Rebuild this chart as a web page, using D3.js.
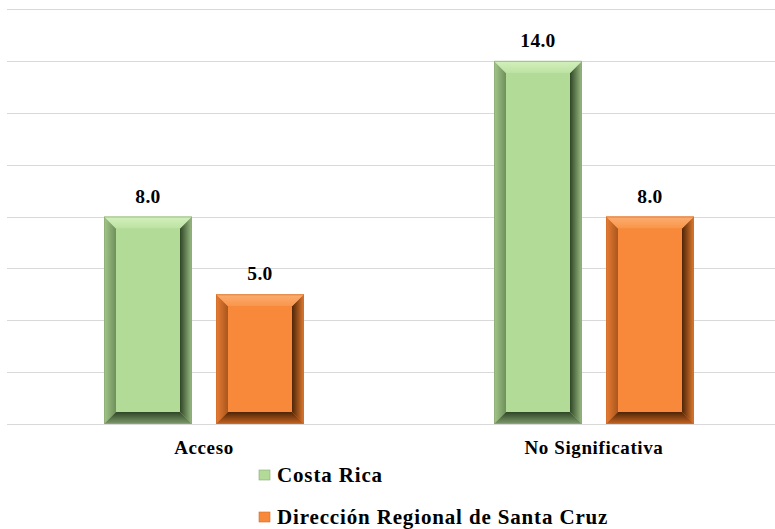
<!DOCTYPE html>
<html><head><meta charset="utf-8">
<script src="https://cdn.jsdelivr.net/npm/d3@7"></script>
<style>body{margin:0;background:#fff}svg{display:block}</style>
</head><body>
<script>
const categories = ["Acceso", "No Significativa"];
const seriesNames = ["Costa Rica", "Dirección Regional de Santa Cruz"];
const costaRica = [8.0, 14.0];
const santaCruz = [5.0, 8.0];
const gridTicks = [0, 2, 4, 6, 8, 10, 12, 14, 16];

const seriesValues = [costaRica, santaCruz];
const colors = ["#B3DB98", "#F8893B"];
const bevel = [
  {top:["#D3F0BD","#BDE2A3"], left:["#A3C78A","#6F8F5B"], right:["#9DBE86","#2F4626"], bottom:["#7E9B6B","#2F4626"]},
  {top:["#FCAE72","#F9954A"], left:["#E97D33","#A9561E"], right:["#E07A30","#4E2406"], bottom:["#C86522","#4E2406"]}
];
const edge = ["#8BAA75", "#D06D28"];
const FONT = "'Liberation Serif', 'Times New Roman', Times, serif";

const W = 775, H = 529;
const svg = d3.select("body").append("svg").attr("width", W).attr("height", H);
const defs = svg.append("defs");
const dirs = {top:[0,0,0,1], bottom:[0,1,0,0], left:[0,0,1,0], right:[1,0,0,0]};
bevel.forEach((b, si) => {
  Object.keys(dirs).forEach(k => {
    const d = dirs[k];
    const lg = defs.append("linearGradient").attr("id", `bv${si}${k}`)
      .attr("x1", d[0]).attr("y1", d[1]).attr("x2", d[2]).attr("y2", d[3]);
    lg.append("stop").attr("offset", 0).attr("stop-color", b[k][0]);
    lg.append("stop").attr("offset", 1).attr("stop-color", b[k][1]);
  });
});

const y = d3.scaleLinear().domain([0, 16]).range([424, 9]);
const x0 = d3.scaleBand().domain(categories).range([8, 788]);
const x1 = d3.scaleBand().domain(seriesNames).range([96, 296]).paddingInner(24/112);

svg.append("g").selectAll("line").data(gridTicks).join("line")
  .attr("x1", 7).attr("x2", W).attr("y1", d => Math.round(y(d)) + 0.5).attr("y2", d => Math.round(y(d)) + 0.5)
  .attr("stroke", "#D9D9D9").attr("stroke-width", 1);

const B = 12;
categories.forEach((cat, ci) => {
  seriesNames.forEach((s, si) => {
    const v = seriesValues[si][ci];
    const bx = x0(cat) + x1(s), bw = x1.bandwidth();
    const by = y(v), bh = y(0) - y(v);
    const x2 = bx + bw, y2 = by + bh;
    const g = svg.append("g");
    g.append("rect").attr("x", bx).attr("y", by).attr("width", bw).attr("height", bh).attr("fill", colors[si]);
    g.append("path").attr("d", `M${bx},${by}L${bx+B},${by+B}L${bx+B},${y2-B}L${bx},${y2}Z`).attr("fill", `url(#bv${si}left)`);
    g.append("path").attr("d", `M${x2},${by}L${x2},${y2}L${x2-B},${y2-B}L${x2-B},${by+B}Z`).attr("fill", `url(#bv${si}right)`);
    g.append("path").attr("d", `M${bx},${y2}L${x2},${y2}L${x2-B},${y2-B}L${bx+B},${y2-B}Z`).attr("fill", `url(#bv${si}bottom)`);
    g.append("path").attr("d", `M${bx},${by}L${x2},${by}L${x2-B},${by+B}L${bx+B},${by+B}Z`).attr("fill", `url(#bv${si}top)`);
    g.append("rect").attr("x", bx + B).attr("y", by + B).attr("width", bw - 2*B).attr("height", bh - 2*B).attr("fill", colors[si]);
    g.append("rect").attr("x", bx + 0.5).attr("y", by + 0.5).attr("width", bw - 1).attr("height", bh - 1)
      .attr("fill", "none").attr("stroke", edge[si]).attr("stroke-opacity", 0.7);
    svg.append("text").attr("x", bx + bw/2).attr("y", by - 14).attr("text-anchor", "middle")
      .attr("font-family", FONT).attr("font-weight", "bold").attr("font-size", 19.5)
      .attr("letter-spacing", 0.3).attr("fill", "#000").text(v.toFixed(1));
  });
});

svg.append("line").attr("x1", 7).attr("x2", W).attr("y1", 424.5).attr("y2", 424.5).attr("stroke", "#D9D9D9");

svg.append("g").selectAll("text").data(categories).join("text")
  .attr("x", d => x0(d) + 96 + 100).attr("y", 454).attr("text-anchor", "middle")
  .attr("font-family", FONT).attr("font-weight", "bold").attr("font-size", 19)
  .attr("letter-spacing", 0.6).text(d => d);

const leg = svg.append("g").selectAll("g").data(seriesNames).join("g")
  .attr("transform", (d, i) => `translate(259,${470 + i * 42})`);
leg.append("rect").attr("width", 11).attr("height", 10).attr("fill", (d, i) => colors[i])
  .attr("stroke", (d, i) => edge[i]).attr("stroke-width", 0.6);
leg.append("text").attr("x", 18).attr("y", 12).attr("font-family", FONT)
  .attr("font-weight", "bold").attr("font-size", 21).attr("letter-spacing", 0.85).text(d => d);
</script>
</body></html>
